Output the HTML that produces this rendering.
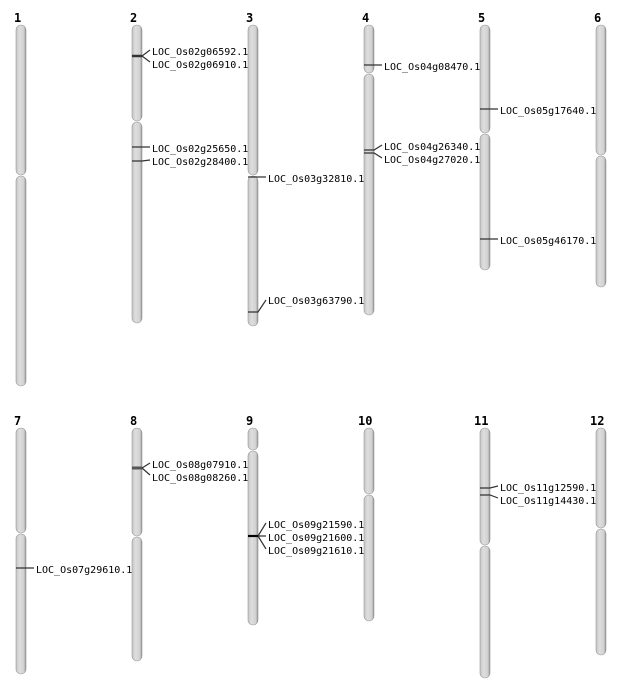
<!DOCTYPE html>
<html><head><meta charset="utf-8"><style>
html,body{margin:0;padding:0;background:#fff;width:634px;height:700px;overflow:hidden}
svg{display:block}
.n{font-family:"DejaVu Sans Mono","Liberation Mono",monospace;font-weight:bold;font-size:12px;fill:#000}
.l{font-family:"DejaVu Sans Mono","Liberation Mono",monospace;font-size:10px;fill:#000}
.m{stroke:#333;stroke-width:1.2;fill:none}
</style></head><body>
<svg width="634" height="700" viewBox="0 0 634 700" xmlns="http://www.w3.org/2000/svg">
<defs>
<linearGradient id="g" x1="0" x2="1" y1="0" y2="0">
<stop offset="0" stop-color="#c4c4c4"/><stop offset="0.35" stop-color="#dedede"/><stop offset="0.8" stop-color="#d0d0d0"/><stop offset="1" stop-color="#8a8a8a"/>
</linearGradient>
<g id="dummy"></g>
</defs>
<g fill="url(#g)" stroke="#999" stroke-width="0.6">
<!-- row 1 -->
<rect x="16" y="25" width="10" height="150" rx="5"/><rect x="16" y="176" width="10" height="210" rx="5"/>
<rect x="132" y="25" width="10" height="96" rx="5"/><rect x="132" y="122" width="10" height="201" rx="5"/>
<rect x="248" y="25" width="10" height="150" rx="5"/><rect x="248" y="176" width="10" height="150" rx="5"/>
<rect x="364" y="25" width="10" height="48" rx="5"/><rect x="364" y="74" width="10" height="241" rx="5"/>
<rect x="480" y="25" width="10" height="108" rx="5"/><rect x="480" y="134" width="10" height="136" rx="5"/>
<rect x="596" y="25" width="10" height="130" rx="5"/><rect x="596" y="156" width="10" height="131" rx="5"/>
<!-- row 2 -->
<rect x="16" y="428" width="10" height="105" rx="5"/><rect x="16" y="534" width="10" height="140" rx="5"/>
<rect x="132" y="428" width="10" height="108" rx="5"/><rect x="132" y="537" width="10" height="124" rx="5"/>
<rect x="248" y="428" width="10" height="22" rx="5"/><rect x="248" y="451" width="10" height="174" rx="5"/>
<rect x="364" y="428" width="10" height="66" rx="5"/><rect x="364" y="495" width="10" height="126" rx="5"/>
<rect x="480" y="428" width="10" height="117" rx="5"/><rect x="480" y="546" width="10" height="132" rx="5"/>
<rect x="596" y="428" width="10" height="100" rx="5"/><rect x="596" y="529" width="10" height="126" rx="5"/>
</g>
<g class="n">
<text x="14" y="22">1</text><text x="130" y="22">2</text><text x="246" y="22">3</text><text x="362" y="22">4</text><text x="478" y="22">5</text><text x="594" y="22">6</text>
<text x="14" y="425">7</text><text x="130" y="425">8</text><text x="246" y="425">9</text><text x="358" y="425">10</text><text x="474" y="425">11</text><text x="590" y="425">12</text>
</g>
<g class="m">
<line x1="132" y1="56" x2="142" y2="56" stroke-width="2.5"/><path d="M142 56 L150 50 M142 56 L150 62"/>
<path d="M132 147 H150 M132 161 H142 L150 160"/>
<path d="M248 177 H266"/>
<path d="M248 312 H258 L266 300"/>
<path d="M364 65 H382"/>
<path d="M364 150 H374 L382 145 M364 153 H374 L382 158"/>
<path d="M480 109 H498"/>
<path d="M480 239 H498"/>
<path d="M16 568 H34"/>
<line x1="132" y1="468" x2="142" y2="468" stroke-width="3" stroke="#555"/><path d="M142 468 L150 463 M142 468 L150 475"/>
<line x1="248" y1="536" x2="258" y2="536" stroke-width="2.2" stroke="#000"/><path d="M258 536 L266 523 M258 536 H266 M258 536 L266 549"/>
<path d="M480 488 H490 L498 486 M480 495 H490 L498 498"/>
</g>
<g class="l">
<text x="152" y="55">LOC_Os02g06592.1</text><text x="152" y="68">LOC_Os02g06910.1</text>
<text x="152" y="152">LOC_Os02g25650.1</text><text x="152" y="165">LOC_Os02g28400.1</text>
<text x="268" y="182">LOC_Os03g32810.1</text><text x="268" y="304">LOC_Os03g63790.1</text>
<text x="384" y="70">LOC_Os04g08470.1</text>
<text x="384" y="150">LOC_Os04g26340.1</text><text x="384" y="163">LOC_Os04g27020.1</text>
<text x="500" y="114">LOC_Os05g17640.1</text><text x="500" y="244">LOC_Os05g46170.1</text>
<text x="36" y="573">LOC_Os07g29610.1</text>
<text x="152" y="468">LOC_Os08g07910.1</text><text x="152" y="481">LOC_Os08g08260.1</text>
<text x="268" y="528">LOC_Os09g21590.1</text><text x="268" y="541">LOC_Os09g21600.1</text><text x="268" y="554">LOC_Os09g21610.1</text>
<text x="500" y="491">LOC_Os11g12590.1</text><text x="500" y="504">LOC_Os11g14430.1</text>
</g>
</svg>
</body></html>
